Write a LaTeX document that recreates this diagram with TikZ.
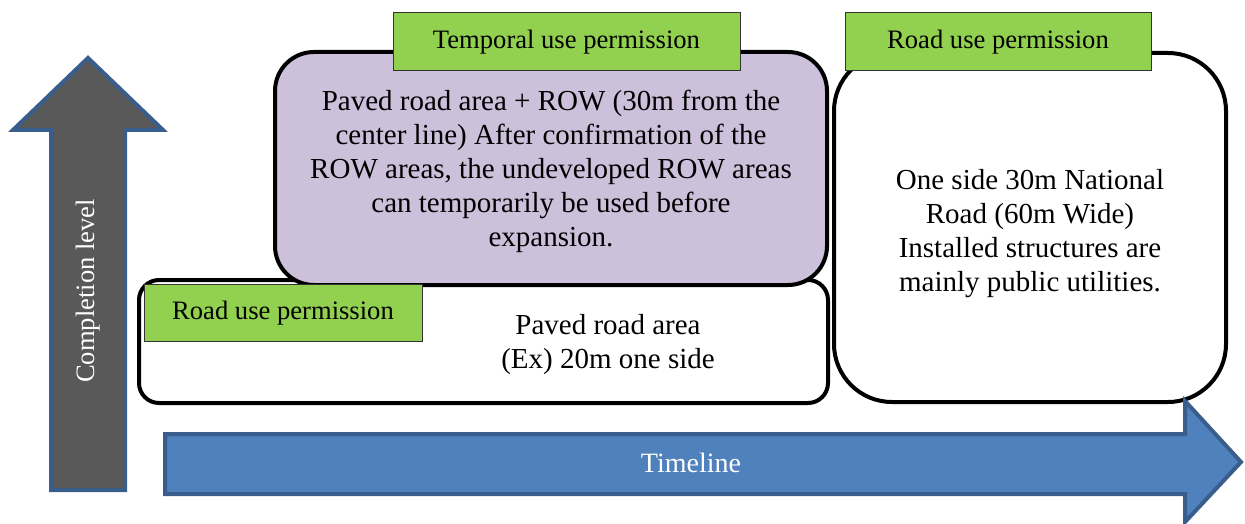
\documentclass[tikz,border=0pt]{standalone}
\usepackage{fontspec}
\setmainfont{Liberation Serif}
\newfontfamily\timesfont{Liberation Serif}
\definecolor{lblgreen}{HTML}{92D050}
\definecolor{boxpurple}{HTML}{CCC0DA}
\definecolor{arrblue}{HTML}{4F81BD}
\definecolor{arrborder}{HTML}{3A5E8C}
\definecolor{arrgray}{HTML}{595959}
\tikzset{
  box/.style={draw=black, line width=4pt, inner sep=0pt},
  lbl/.style={draw=black!80, line width=0.8pt, fill=lblgreen, inner sep=0pt},
  lbltext/.style={font=\timesfont\fontsize{26.6}{30}\selectfont, anchor=base, inner sep=0pt},
  bodytext/.style={font=\timesfont\fontsize{29}{34}\selectfont, align=center, inner sep=0pt},
  arrshape/.style={line width=4pt, draw=arrborder, line join=miter},
  arrtext/.style={text=white, font=\timesfont\fontsize{26.6}{30}\selectfont, inner sep=0pt}
}
\begin{document}
\begin{tikzpicture}[x=1pt,y=-1pt]
\useasboundingbox (0,0) rectangle (1245,524);
% vertical arrow
\draw[arrshape, fill=arrgray] (51,490) -- (51,130) -- (13,130) -- (88,58) -- (163,130) -- (125,130) -- (125,490) -- cycle;
\node[arrtext, rotate=90] (complevel) at (88,291) {Completion level};
% bottom box
\node[box, fill=white, rounded corners=20pt, minimum width=689pt, minimum height=123pt] (paved) at (483.5,341.5) {};
% purple box
\node[box, fill=boxpurple, rounded corners=39pt, minimum width=552pt, minimum height=233pt] (temp) at (551,168.5) {};
% right box
\node[box, fill=white, rounded corners=58pt, minimum width=392pt, minimum height=349pt] (national) at (1030,227.5) {};
% texts in boxes
\node[bodytext] (temptext) at (551,171.5) {Paved road area + ROW (30m from the\\center line) After confirmation of the\\ROW areas, the undeveloped ROW areas\\can temporarily be used before\\expansion.};
\node[bodytext] (natText) at (1030,234) {One side 30m National\\Road (60m Wide)\\Installed structures are\\mainly public utilities.};
\node[bodytext] (pavedtext) at (608,345) {Paved road area\\(Ex) 20m one side};
% green labels
\node[lbl, minimum width=278pt, minimum height=57pt] (lbl1) at (283,312.5) {};
\node[lbltext] at (283,319) {Road use permission};
\node[lbl, minimum width=347pt, minimum height=58pt] (lbl2) at (566.5,41) {};
\node[lbltext] at (566.5,48.3) {Temporal use permission};
\node[lbl, minimum width=306pt, minimum height=58pt] (lbl3) at (998,41) {};
\node[lbltext] at (998,48.3) {Road use permission};
% horizontal arrow
\draw[arrshape, fill=arrblue] (165,434) -- (1185,434) -- (1185,401) -- (1241,462) -- (1185,522) -- (1185,494) -- (165,494) -- cycle;
\node[arrtext, font=\timesfont\fontsize{28}{32}\selectfont] (timeline) at (691,463) {Timeline};
\end{tikzpicture}
\end{document}
